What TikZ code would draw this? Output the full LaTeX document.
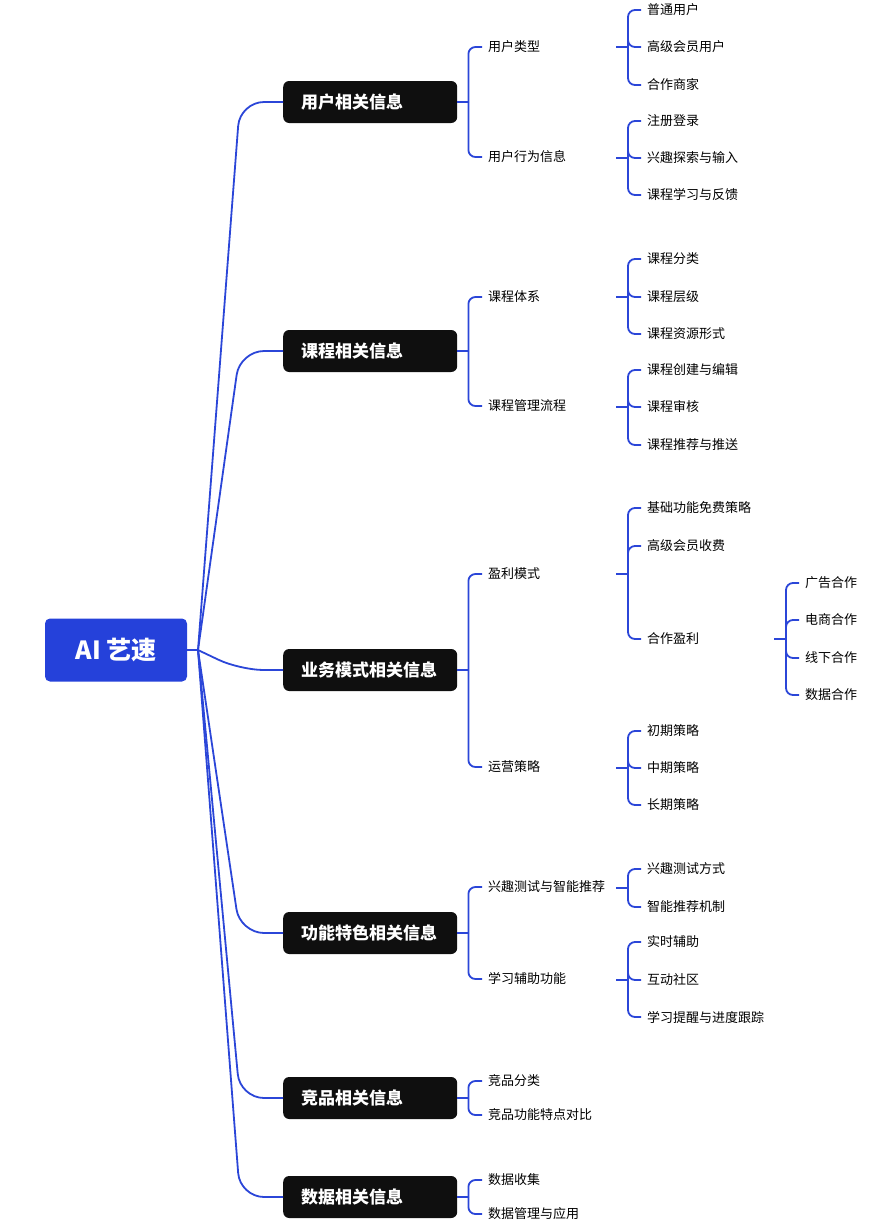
\documentclass[tikz,border=0pt]{standalone}
\usepackage{fontspec}
\setmainfont{Noto Sans CJK SC}
\definecolor{linkblue}{HTML}{2B46D8}
\definecolor{rootblue}{HTML}{2541DA}
\definecolor{boxblack}{HTML}{0F0F0F}
\newcommand\mygrp[3]{\draw[conn] (#1) -- ++(#2,0) coordinate (v);
  \foreach \k in {#3} {\draw[conn] (v) |- (\k.west);}}
\begin{document}
\begin{tikzpicture}[x=1pt,y=-1pt,
  conn/.style={draw=linkblue,line width=1.8pt,rounded corners=7pt},
  rootconn/.style={draw=linkblue,line width=1.8pt,rounded corners=24pt},
  rootbox/.style={fill=rootblue,rounded corners=5pt,minimum width=142pt,minimum height=63pt,text=white,font=\bfseries\fontsize{25}{30}\selectfont,inner sep=0pt},
  branch/.style={fill=boxblack,rounded corners=6pt,minimum height=42pt,text=white,font=\bfseries\fontsize{17}{20}\selectfont,align=left,text width=138pt,inner xsep=18pt,inner ysep=0pt,anchor=west},
  leaf/.style={anchor=west,inner xsep=6pt,inner ysep=1pt,font=\fontsize{13}{16}\selectfont,text=black}]
\useasboundingbox (0,0) rectangle (877,1227);
% root
\node[rootbox] (root) at (116,650) {AI 艺速};
\coordinate (rf) at (198,650);
\draw[conn] (root.east) -- (rf);
% branches
\node[branch] (b1) at (283,102) {用户相关信息};
\node[branch] (b2) at (283,351) {课程相关信息};
\node[branch] (b3) at (283,670) {业务模式相关信息};
\node[branch] (b4) at (283,933) {功能特色相关信息};
\node[branch] (b5) at (283,1098) {竞品相关信息};
\node[branch] (b6) at (283,1197) {数据相关信息};
\foreach \b/\y in {b1/102,b2/351,b3/670,b4/933,b5/1098,b6/1197}
  {\draw[rootconn] (rf) -- (240,\y) -- (\b.west);}
% level 2
\node[leaf] (a1) at (482,47) {用户类型};
\node[leaf] (a2) at (482,157) {用户行为信息};
\node[leaf] (a3) at (482,297) {课程体系};
\node[leaf] (a4) at (482,406) {课程管理流程};
\node[leaf] (a5) at (482,574) {盈利模式};
\node[leaf] (a6) at (482,767) {运营策略};
\node[leaf] (a7) at (482,887) {兴趣测试与智能推荐};
\node[leaf] (a8) at (482,979) {学习辅助功能};
\node[leaf] (a9) at (482,1081) {竞品分类};
\node[leaf] (a10) at (482,1115) {竞品功能特点对比};
\node[leaf] (a11) at (482,1180) {数据收集};
\node[leaf] (a12) at (482,1214) {数据管理与应用};
\mygrp{b1.east}{11}{a1,a2}
\mygrp{b2.east}{11}{a3,a4}
\mygrp{b3.east}{11}{a5,a6}
\mygrp{b4.east}{11}{a7,a8}
\mygrp{b5.east}{11}{a9,a10}
\mygrp{b6.east}{11}{a11,a12}
% level 3
\node[leaf] (c1) at (641,10) {普通用户};
\node[leaf] (c2) at (641,47) {高级会员用户};
\node[leaf] (c3) at (641,85) {合作商家};
\node[leaf] (c4) at (641,121) {注册登录};
\node[leaf] (c5) at (641,158) {兴趣探索与输入};
\node[leaf] (c6) at (641,195) {课程学习与反馈};
\node[leaf] (c7) at (641,259) {课程分类};
\node[leaf] (c8) at (641,297) {课程层级};
\node[leaf] (c9) at (641,334) {课程资源形式};
\node[leaf] (c10) at (641,370) {课程创建与编辑};
\node[leaf] (c11) at (641,407) {课程审核};
\node[leaf] (c12) at (641,445) {课程推荐与推送};
\node[leaf] (c13) at (641,508) {基础功能免费策略};
\node[leaf] (c14) at (641,546) {高级会员收费};
\node[leaf] (c15) at (641,639) {合作盈利};
\node[leaf] (c16) at (641,731) {初期策略};
\node[leaf] (c17) at (641,768) {中期策略};
\node[leaf] (c18) at (641,805) {长期策略};
\node[leaf] (c19) at (641,869) {兴趣测试方式};
\node[leaf] (c20) at (641,907) {智能推荐机制};
\node[leaf] (c21) at (641,942) {实时辅助};
\node[leaf] (c22) at (641,980) {互动社区};
\node[leaf] (c23) at (641,1017) {学习提醒与进度跟踪};
\coordinate (s1) at (616,47);
\coordinate (s2) at (616,158);
\coordinate (s3) at (616,297);
\coordinate (s4) at (616,407);
\coordinate (s5) at (616,574);
\coordinate (s6) at (616,768);
\coordinate (s7) at (616,888);
\coordinate (s8) at (616,980);
\mygrp{s1}{12}{c1,c2,c3}
\mygrp{s2}{12}{c4,c5,c6}
\mygrp{s3}{12}{c7,c8,c9}
\mygrp{s4}{12}{c10,c11,c12}
\mygrp{s5}{12}{c13,c14,c15}
\mygrp{s6}{12}{c16,c17,c18}
\mygrp{s7}{12}{c19,c20}
\mygrp{s8}{12}{c21,c22,c23}
% level 4
\node[leaf] (d1) at (799,583) {广告合作};
\node[leaf] (d2) at (799,620) {电商合作};
\node[leaf] (d3) at (799,658) {线下合作};
\node[leaf] (d4) at (799,695) {数据合作};
\coordinate (s9) at (774,639);
\mygrp{s9}{12}{d1,d2,d3,d4}
\end{tikzpicture}
\end{document}
